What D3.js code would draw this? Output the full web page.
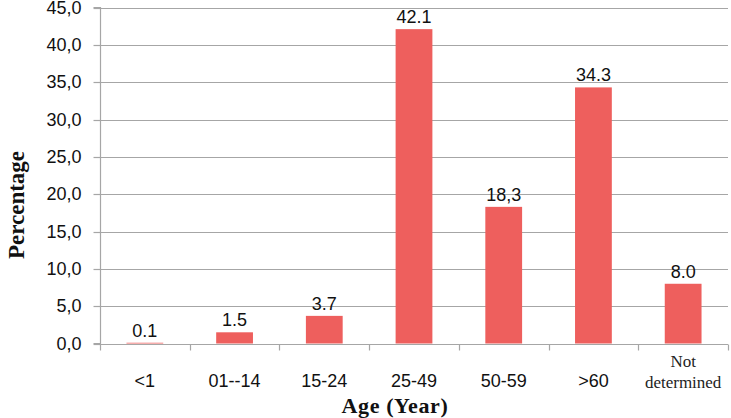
<!DOCTYPE html>
<html><head><meta charset="utf-8">
<script src="https://cdn.jsdelivr.net/npm/d3@7"></script>
<style>body{margin:0;background:#fff}svg{display:block}</style>
</head><body>
<script>
const categories = ["<1","01--14","15-24","25-49","50-59",">60","Not determined"];
const values = [0.1,1.5,3.7,42.1,18.3,34.3,8.0];
const valueLabels = ["0.1","1.5","3.7","42.1","18,3","34.3","8.0"];
const yTicks = [0,5,10,15,20,25,30,35,40,45];

const W=731,H=418;
const m={l:100,r:3,t:7.5,b:74.5};
const svg=d3.select("body").append("svg").attr("width",W).attr("height",H);
const x=d3.scaleBand().domain(categories).range([m.l,W-m.r]).padding(0);
const y=d3.scaleLinear().domain([0,45]).range([H-m.b,m.t]);
const grid="#a6a6a6";
const font="'Liberation Sans', Arial, sans-serif";
const fs=18;

// gridlines
svg.append("g").selectAll("line").data(yTicks.filter(d=>d>0)).join("line")
 .attr("x1",m.l).attr("x2",W-m.r).attr("y1",d=>Math.round(y(d))+0.5).attr("y2",d=>Math.round(y(d))+0.5)
 .attr("stroke",grid).attr("stroke-width",1.2);

// bars
const bw=x.bandwidth()*0.41;
svg.append("g").selectAll("rect").data(values).join("rect")
 .attr("x",(d,i)=>x(categories[i])+(x.bandwidth()-bw)/2)
 .attr("y",d=>y(d)).attr("width",bw).attr("height",d=>y(0)-y(d))
 .attr("fill","#ee5f5d");

// y axis
const ya=svg.append("g").attr("transform",`translate(${m.l+0.5},0)`)
 .call(d3.axisLeft(y).tickValues(yTicks).tickSize(7).tickPadding(12).tickFormat(d=>d3.format(".1f")(d).replace(".",",")));
ya.select(".domain").attr("stroke",grid).attr("stroke-width",1.2).attr("d",`M-7,${m.t}H0V${y(0)}H-7`);
ya.selectAll(".tick line").attr("stroke",grid).attr("stroke-width",1.2);
ya.selectAll(".tick text").attr("font-family",font).attr("font-size",fs).attr("fill","#111");
ya.selectAll(".tick").attr("transform",d=>`translate(0,${Math.round(y(d))+0.5})`);

// x axis
const base=Math.round(y(0))+0.5;
svg.append("line").attr("x1",m.l).attr("x2",W-m.r).attr("y1",base).attr("y2",base).attr("stroke",grid).attr("stroke-width",1.2);
const bounds=categories.map(c=>x(c)).concat([x(categories[categories.length-1])+x.bandwidth()]);
svg.append("g").selectAll("line").data(bounds).join("line")
 .attr("x1",d=>Math.round(d)+0.5).attr("x2",d=>Math.round(d)+0.5).attr("y1",base).attr("y2",base+6)
 .attr("stroke",grid).attr("stroke-width",1.2);

// category labels
const cl=svg.append("g");
categories.forEach((c,i)=>{
  const cx=x(c)+x.bandwidth()/2;
  if(c==="Not determined"){
    cl.append("text").attr("x",cx).attr("y",367).attr("text-anchor","middle")
      .attr("font-family","'Liberation Serif', serif").attr("font-size",17).attr("fill","#222").text("Not");
    cl.append("text").attr("x",cx).attr("y",388).attr("text-anchor","middle")
      .attr("font-family","'Liberation Serif', serif").attr("font-size",17).attr("fill","#222").text("determined");
  } else {
    cl.append("text").attr("x",cx).attr("y",387).attr("text-anchor","middle")
      .attr("font-family",font).attr("font-size",fs).attr("fill","#111").text(c);
  }
});

// value labels
svg.append("g").selectAll("text").data(values).join("text")
 .attr("x",(d,i)=>x(categories[i])+x.bandwidth()/2).attr("y",d=>y(d)-6)
 .attr("text-anchor","middle").attr("font-family",font).attr("font-size",fs).attr("fill","#111")
 .text((d,i)=>valueLabels[i]);

// axis titles
svg.append("text").attr("x",395).attr("y",413).attr("text-anchor","middle")
 .attr("font-family","'Liberation Serif', serif").attr("font-weight","bold").attr("font-size",22)
 .attr("letter-spacing",0.6).attr("fill","#111").text("Age (Year)");
svg.append("text").attr("transform","translate(24,205) rotate(-90)").attr("text-anchor","middle")
 .attr("font-family","'Liberation Serif', serif").attr("font-weight","bold").attr("font-size",23)
 .attr("fill","#111").text("Percentage");
</script>
</body></html>
